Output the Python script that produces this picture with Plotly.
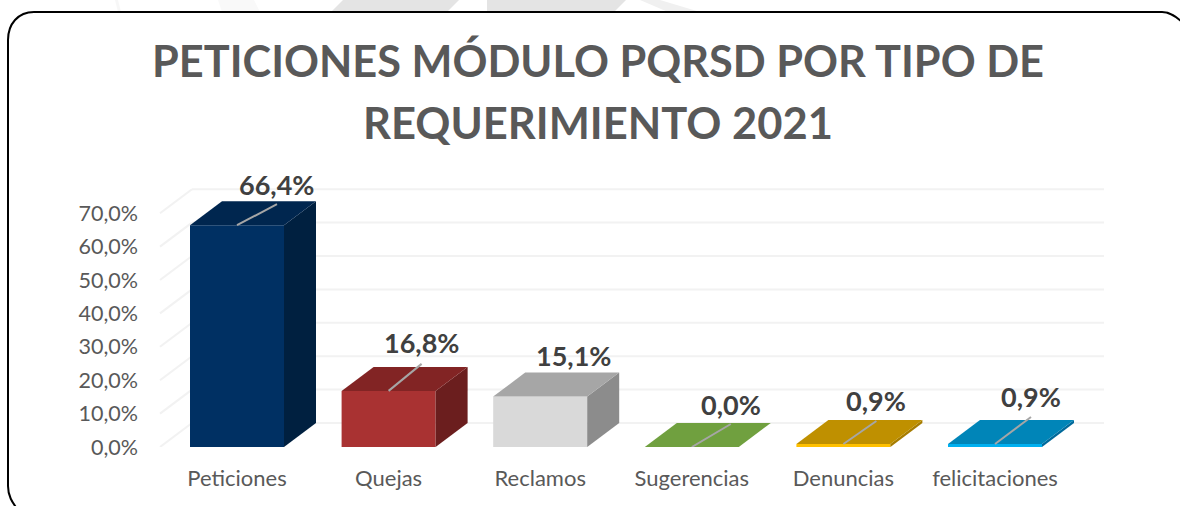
import plotly.graph_objects as go

# ---- data ----
categories = ["Peticiones", "Quejas", "Reclamos", "Sugerencias", "Denuncias", "felicitaciones"]
values = [66.4, 16.8, 15.1, 0.0, 0.9, 0.9]
labels = ["66,4%", "16,8%", "15,1%", "0,0%", "0,9%", "0,9%"]
y_ticks = [0, 10, 20, 30, 40, 50, 60, 70]
y_tick_labels = ["0,0%", "10,0%", "20,0%", "30,0%", "40,0%", "50,0%", "60,0%", "70,0%"]
title_line_1 = "PETICIONES MÓDULO PQRSD POR TIPO DE"
title_line_2 = "REQUERIMIENTO 2021"

# ---- styles ----
front_colors = ["#003063", "#A93232", "#D9D9D9", "#70A03F", "#FFC000", "#00B0F0"]
top_colors = ["#00264F", "#822424", "#A6A6A6", "#70A03F", "#BF9000", "#0085B8"]
side_colors = ["#002040", "#6B1E1E", "#8C8C8C", "#5A8032", "#A67C00", "#00699A"]
# label offset from bar's front-top centre, in pixels
label_dx = [39, 33, 33, 39, 33, 36]
label_dy = [-41, -48, -41, -43, -43, -47]
# leader line ends (pixels relative to the front-top centre); None = no leader
leader_dx = [40, 33, None, 39, 33, 36]
leader_dy = [-21, -27, None, -23, -23, -27]

W, H = 1180, 506
PX_X = 151.6   # pixels per category
PX_Y = 3.34    # pixels per percent
X0_PX, Y0_PX = 237, 447
L, R, T = 150, 1110, 170
bar_w = 94 / PX_X
dep_x = 32 / PX_X
dep_y = 24 / PX_Y
dx = lambda p: p / PX_X
dy = lambda p: p / PX_Y

fig = go.Figure()

fig.add_trace(go.Bar(
    x=list(range(len(categories))), y=values, width=bar_w,
    marker=dict(color=front_colors, line=dict(width=0)),
    hoverinfo="skip", showlegend=False,
))

for i, v in enumerate(values):
    l, r = i - bar_w / 2, i + bar_w / 2
    if v > 0:
        fig.add_trace(go.Scatter(
            x=[r, r + dep_x, r + dep_x, r, r], y=[0, dep_y, v + dep_y, v, 0],
            mode="lines", fill="toself", fillcolor=side_colors[i], line=dict(width=0),
            hoverinfo="skip", showlegend=False))
    fig.add_trace(go.Scatter(
        x=[l, r, r + dep_x, l + dep_x, l], y=[v, v, v + dep_y, v + dep_y, v],
        mode="lines", fill="toself", fillcolor=top_colors[i], line=dict(width=0),
        hoverinfo="skip", showlegend=False))
    if leader_dx[i] is not None:
        fig.add_trace(go.Scatter(
            x=[i, i + dx(leader_dx[i])], y=[v, v - dy(leader_dy[i])],
            mode="lines", line=dict(color="#A6A6A6", width=2),
            hoverinfo="skip", showlegend=False))
    fig.add_annotation(x=i, y=v, xref="x", yref="y", text=f"<b>{labels[i]}</b>",
                       showarrow=False, xshift=label_dx[i], yshift=-label_dy[i],
                       font=dict(family="Lato", size=27, color="#404040"))

fig.add_annotation(x=598 / W, y=1 - 122 / H, xref="paper", yref="paper",
                   text=f"<b>{title_line_2}</b>", showarrow=False,
                   xanchor="center", yanchor="middle",
                   font=dict(family="Lato", size=43.5, color="#595959"))

# gridlines on the back wall and left wall of the 3-D box
shapes = []
x_left = (160 - X0_PX) / PX_X
x_back = x_left + dep_x
x_right = (1104 - X0_PX) / PX_X
for t in y_ticks:
    for xs, ys in (((x_left, x_back), (t, t + dep_y)), ((x_back, x_right), (t + dep_y, t + dep_y))):
        shapes.append(dict(type="line", layer="below", xref="x", yref="y",
                           x0=xs[0], x1=xs[1], y0=ys[0], y1=ys[1],
                           line=dict(color="#F2F2F2", width=2)))

# page backdrop: faint diagonal bands and rounded card
def px(x, y):
    return f"{x / W:.5f} {1 - y / H:.5f}"

def poly(points, color):
    return dict(type="path", layer="below", xref="paper", yref="paper",
                path="M " + " L ".join(px(*p) for p in points) + " Z",
                fillcolor=color, line=dict(width=0))

backdrop = [
    poly([(343, 0), (459, 0), (447, 12), (331, 12)], "#E4E4E4"),
    poly([(487, 0), (626, 0), (614, 12), (487, 12)], "#E4E4E4"),
    poly([(640, 0), (660, 0), (700, 12), (668, 12)], "#F0F0F0"),
    poly([(115, 0), (118, 0), (121, 12), (118, 12)], "#F7F7F7"),
    poly([(218, 0), (254, 0), (260, 12), (222, 12)], "#F9F9F9"),
]
card = dict(type="path", layer="below", xref="paper", yref="paper",
            path=(f"M {px(18, 510)} C {px(12, 502)} {px(8, 496)} {px(8, 486)} "
                  f"L {px(8, 40)} C {px(8, 24)} {px(18, 12)} {px(34, 12)} "
                  f"L {px(1162, 12)} C {px(1170, 12)} {px(1176, 16)} {px(1184, 24)} "
                  f"L {px(1184, 510)} Z"),
            fillcolor="#FFFFFF", line=dict(color="#000000", width=2))

fig.update_layout(
    width=W, height=H,
    margin=dict(l=0, r=0, t=0, b=0, autoexpand=False),
    paper_bgcolor="#FFFFFF", plot_bgcolor="rgba(0,0,0,0)",
    showlegend=False, barmode="overlay",
    shapes=backdrop + [card] + shapes,
    title=dict(text=f"<b>{title_line_1}</b>", x=598 / W, xanchor="center",
               y=1 - 62 / H, yanchor="middle", yref="container",
               font=dict(family="Lato", size=43.3, color="#595959")),
    xaxis=dict(domain=[L / W, R / W],
               range=[(L - X0_PX) / PX_X, (R - X0_PX) / PX_X],
               tickmode="array", tickvals=list(range(len(categories))), ticktext=categories,
               showgrid=False, zeroline=False, showline=False, ticks="",
               ticklabelstandoff=16, automargin=False,
               tickfont=dict(family="Lato", size=22, color="#595959")),
    yaxis=dict(domain=[1 - Y0_PX / H, 1 - T / H],
               range=[0, (Y0_PX - T) / PX_Y],
               tickmode="array", tickvals=y_ticks, ticktext=y_tick_labels,
               showgrid=False, zeroline=False, showline=False, ticks="",
               ticklabelstandoff=11, automargin=False,
               tickfont=dict(family="Lato", size=21.5, color="#595959")),
)

fig.write_html("out.html", config={"displayModeBar": False},
               post_script="document.body.style.margin='0';document.documentElement.style.overflow='hidden';")
